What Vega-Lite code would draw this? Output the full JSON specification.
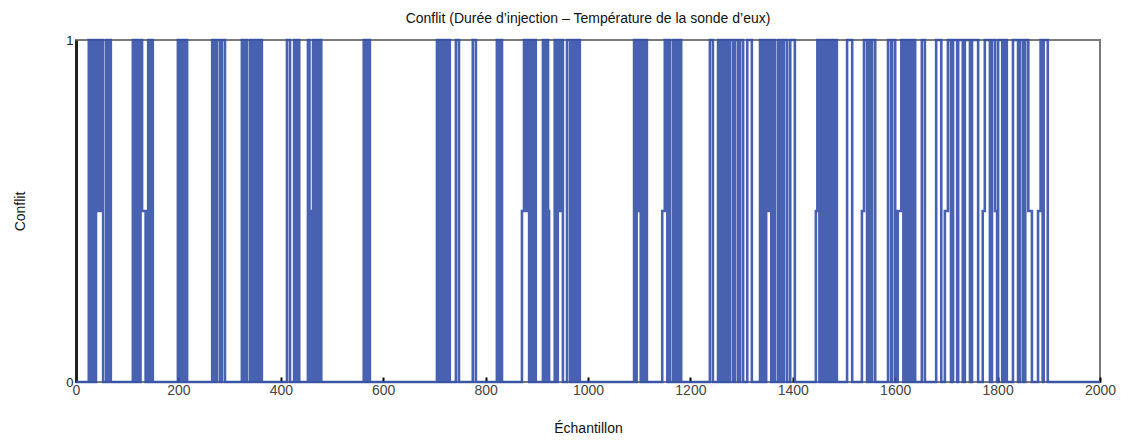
{
  "$schema": "https://vega.github.io/schema/vega-lite/v6.json",
  "width": 1024,
  "height": 342,
  "autosize": {"type": "none"},
  "padding": {"left": 76, "top": 40, "right": 39, "bottom": 59},
  "background": "white",
  "title": {"text": "Conflit (Durée d’injection – Température de la sonde d’eux)", "fontSize": 14, "fontWeight": "normal", "font": "Liberation Sans", "color": "#111", "offset": 8},
  "config": {"view": {"stroke": "#7a7a7a", "strokeWidth": 2}, "font": "Liberation Sans"},
  "data": {"values": [
    {"x":0,"y":0},
    {"x":25,"y":1},{"x":30,"y":0},{"x":33,"y":1},{"x":37,"y":0},
    {"x":39,"y":1},{"x":44,"y":0.5},{"x":48,"y":1},{"x":53,"y":0},
    {"x":59,"y":1},{"x":63,"y":0},{"x":65,"y":1},{"x":68,"y":0},
    {"x":111,"y":1},{"x":114,"y":0},{"x":116,"y":1},{"x":119,"y":0},{"x":121,"y":1},{"x":124,"y":0},{"x":126,"y":1},{"x":129,"y":0.5},{"x":136,"y":0},
    {"x":141,"y":1},{"x":145,"y":0},{"x":147,"y":1},{"x":150,"y":0},
    {"x":199,"y":1},{"x":203,"y":0},{"x":205,"y":1},{"x":209,"y":0},{"x":211,"y":1},{"x":214,"y":0},{"x":215,"y":1},{"x":217,"y":0},
    {"x":266,"y":1},{"x":271,"y":0},{"x":275,"y":1},{"x":281,"y":0},{"x":285,"y":1},{"x":291,"y":0},
    {"x":324,"y":1},{"x":328,"y":0},{"x":330,"y":1},{"x":334,"y":0},{"x":340,"y":1},{"x":344,"y":0},{"x":346,"y":1},{"x":350,"y":0},{"x":354,"y":1},{"x":358,"y":0},{"x":360,"y":1},{"x":363,"y":0},
    {"x":412,"y":1},{"x":418,"y":0},{"x":426,"y":1},{"x":430,"y":0},{"x":432,"y":1},{"x":436,"y":0},
    {"x":453,"y":1},{"x":456,"y":0},{"x":461,"y":0.5},{"x":463,"y":1},{"x":466,"y":0},{"x":468,"y":1},{"x":471,"y":0},{"x":473,"y":1},{"x":476,"y":0},{"x":477,"y":1},{"x":479,"y":0},
    {"x":562,"y":1},{"x":567,"y":0},{"x":569,"y":1},{"x":574,"y":0},
    {"x":705,"y":1},{"x":709,"y":0},{"x":711,"y":1},{"x":715,"y":0},{"x":717,"y":1},{"x":722,"y":0},{"x":725,"y":1},{"x":730,"y":0},
    {"x":742,"y":1},{"x":748,"y":0},
    {"x":775,"y":1},{"x":781,"y":0},
    {"x":822,"y":1},{"x":827,"y":0},{"x":829,"y":1},{"x":832,"y":0},
    {"x":871,"y":0.5},{"x":875,"y":1},{"x":879,"y":0.5},{"x":882,"y":1},{"x":885,"y":0},{"x":887,"y":1},{"x":890,"y":0},{"x":892,"y":1},{"x":895,"y":0},{"x":896,"y":1},{"x":898,"y":0},
    {"x":912,"y":1},{"x":917,"y":0},{"x":919,"y":1},{"x":922,"y":0.5},{"x":924,"y":0},
    {"x":935,"y":1},{"x":939,"y":0},{"x":941,"y":1},{"x":946,"y":0.5},{"x":948,"y":1},{"x":951,"y":0},
    {"x":959,"y":1},{"x":965,"y":0},
    {"x":969,"y":1},{"x":973,"y":0},{"x":976,"y":1},{"x":980,"y":0},{"x":982,"y":1},{"x":984,"y":0},
    {"x":1090,"y":1},{"x":1093,"y":0},{"x":1095,"y":1},{"x":1098,"y":0.5},{"x":1100,"y":1},{"x":1103,"y":0},{"x":1105,"y":1},{"x":1108,"y":0},{"x":1110,"y":1},{"x":1112,"y":0},{"x":1113,"y":1},{"x":1115,"y":0},
    {"x":1145,"y":0.5},{"x":1150,"y":1},{"x":1155,"y":0},{"x":1157,"y":1},{"x":1160,"y":0},
    {"x":1166,"y":1},{"x":1170,"y":0},{"x":1172,"y":1},{"x":1176,"y":0},{"x":1178,"y":1},{"x":1182,"y":0},
    {"x":1238,"y":1},{"x":1244,"y":0},{"x":1254,"y":1},{"x":1258,"y":0},{"x":1260,"y":1},{"x":1264,"y":0},{"x":1268,"y":1},{"x":1273,"y":0},{"x":1277,"y":1},{"x":1283,"y":0},{"x":1287,"y":1},{"x":1293,"y":0},{"x":1297,"y":1},{"x":1303,"y":0},
    {"x":1311,"y":1},{"x":1320,"y":0},
    {"x":1336,"y":1},{"x":1340,"y":0},{"x":1342,"y":1},{"x":1346,"y":0},{"x":1348,"y":1},{"x":1351,"y":0.5},{"x":1354,"y":1},{"x":1358,"y":0},{"x":1360,"y":1},{"x":1365,"y":0},
    {"x":1371,"y":1},{"x":1375,"y":0},{"x":1377,"y":1},{"x":1381,"y":0},{"x":1383,"y":1},{"x":1389,"y":0},
    {"x":1395,"y":1},{"x":1404,"y":0},
    {"x":1445,"y":0.5},{"x":1448,"y":1},{"x":1452,"y":0},{"x":1454,"y":1},{"x":1457,"y":0},
    {"x":1459,"y":1},{"x":1463,"y":0},{"x":1465,"y":1},{"x":1467,"y":0},{"x":1469,"y":1},{"x":1473,"y":0},{"x":1475,"y":1},{"x":1479,"y":0},{"x":1481,"y":1},{"x":1486,"y":0},
    {"x":1506,"y":1},{"x":1516,"y":0},
    {"x":1535,"y":0.5},{"x":1539,"y":1},{"x":1545,"y":0},{"x":1548,"y":1},{"x":1553,"y":0},{"x":1555,"y":1},{"x":1561,"y":0},
    {"x":1586,"y":1},{"x":1592,"y":0},{"x":1594,"y":1},{"x":1600,"y":0},
    {"x":1605,"y":0.5},{"x":1612,"y":1},{"x":1616,"y":0},{"x":1619,"y":1},{"x":1624,"y":0},{"x":1627,"y":1},{"x":1631,"y":0},{"x":1634,"y":1},{"x":1639,"y":0},
    {"x":1652,"y":1},{"x":1658,"y":0},
    {"x":1680,"y":1},{"x":1690,"y":0},
    {"x":1697,"y":0.5},{"x":1703,"y":1},{"x":1709,"y":0},
    {"x":1713,"y":1},{"x":1721,"y":0},{"x":1723,"y":1},{"x":1732,"y":0},{"x":1736,"y":1},{"x":1746,"y":0},{"x":1750,"y":1},{"x":1762,"y":0},
    {"x":1771,"y":0.5},{"x":1775,"y":1},{"x":1785,"y":0},{"x":1789,"y":1},{"x":1795,"y":0.5},{"x":1799,"y":0},{"x":1801,"y":1},{"x":1809,"y":0},
    {"x":1814,"y":1},{"x":1818,"y":0},
    {"x":1830,"y":1},{"x":1840,"y":0},{"x":1844,"y":1},{"x":1850,"y":0},{"x":1854,"y":1},{"x":1860,"y":0.5},{"x":1867,"y":0},
    {"x":1879,"y":0.5},{"x":1884,"y":1},{"x":1888,"y":0},{"x":1890,"y":1},{"x":1898,"y":0},
    {"x":2000,"y":0}
  ]},
  "mark": {"type": "line", "interpolate": "step-after", "color": "#3550a8", "strokeWidth": 2.6, "opacity": 0.9},
  "encoding": {
    "x": {"field": "x", "type": "quantitative", "scale": {"domain": [0, 2000], "nice": false},
      "axis": {"values": [0,200,400,600,800,1000,1200,1400,1600,1800,2000], "format": "d", "title": "Échantillon", "grid": false, "domain": false,
        "tickSize": -5, "tickColor": "#000", "tickWidth": 2, "labelPadding": 6, "labelFontSize": 14, "labelColor": "#444", "labelFont": "Liberation Sans",
        "titleFontSize": 14, "titleFontWeight": "normal", "titleColor": "#111", "titleBaseline": "middle", "titleY": 46, "labelFlush": false}},
    "y": {"field": "y", "type": "quantitative", "scale": {"domain": [0, 1], "nice": false},
      "axis": {"values": [0, 1], "format": "d", "title": "Conflit", "grid": false, "domain": true, "domainColor": "#222", "domainWidth": 3,
        "ticks": false, "labelPadding": 3, "labelFontSize": 13, "labelColor": "#222", "labelFont": "Liberation Sans",
        "titleFontSize": 14, "titleFontWeight": "normal", "titleColor": "#111", "titleX": -56, "titleY": 171, "titleBaseline": "middle", "labelFlush": false}}
  }
}
